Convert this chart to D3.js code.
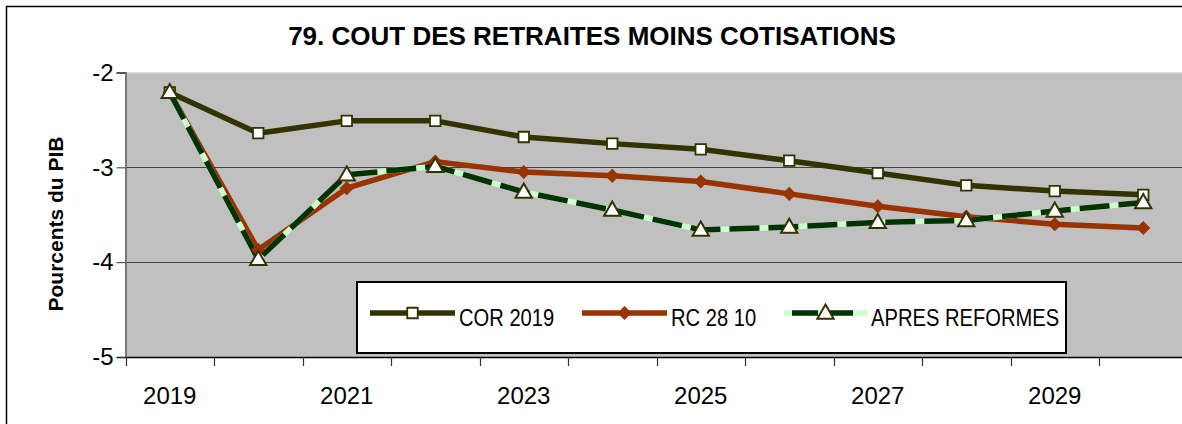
<!DOCTYPE html>
<html>
<head>
<meta charset="utf-8">
<script src="https://cdn.jsdelivr.net/npm/d3@7"></script>
<style>
  body { margin: 0; background: #fff; }
  text { font-family: "Liberation Sans", Arial, sans-serif; }
</style>
</head>
<body>
<script>
var years = ["2019","2020","2021","2022","2023","2024","2025","2026","2027","2028","2029","2030"];
var yearLabels = ["2019","2021","2023","2025","2027","2029"];
var yTicks = [-2, -3, -4, -5];

var cor2019 = [-2.21, -2.64, -2.51, -2.51, -2.68, -2.75, -2.81, -2.93, -3.06, -3.19, -3.25, -3.29];
var rc2810 = [-2.21, -3.87, -3.22, -2.94, -3.05, -3.09, -3.15, -3.28, -3.41, -3.52, -3.60, -3.64];
var apres = [-2.21, -3.97, -3.08, -2.99, -3.26, -3.45, -3.66, -3.63, -3.58, -3.56, -3.46, -3.37];

var seriesNames = ["COR 2019", "RC 28 10", "APRES REFORMES"];

var width = 1182,
    height = 424;

var svg = d3.select("body").append("svg")
    .attr("width", width)
    .attr("height", height);

// outer chart frame (cut off on the right and bottom like the source)
svg.append("rect")
    .attr("x", 6.5).attr("y", 6.5)
    .attr("width", 1400).attr("height", 600)
    .attr("fill", "#fff")
    .attr("stroke", "#000")
    .attr("stroke-width", 1.5);

var x = d3.scaleBand().domain(years).range([125.5, 1187.5]).padding(0);
var y = d3.scaleLinear().domain([-5, -2]).range([357, 72.5]);

function cx(i) { return x(years[i]) + x.bandwidth() / 2; }

// plot area
svg.append("rect")
    .attr("x", x.range()[0]).attr("y", y(-2))
    .attr("width", x.range()[1] - x.range()[0])
    .attr("height", y(-5) - y(-2))
    .attr("fill", "#c0c0c0");

svg.append("line")
    .attr("x1", x.range()[0]).attr("x2", width)
    .attr("y1", y(-2) + 0.5).attr("y2", y(-2) + 0.5)
    .attr("stroke", "#dedede");

// gridlines
svg.append("g")
    .selectAll("line")
    .data([-3, -4])
    .enter().append("line")
    .attr("x1", x.range()[0]).attr("x2", width)
    .attr("y1", function(d) { return Math.round(y(d)) + 0.5; })
    .attr("y2", function(d) { return Math.round(y(d)) + 0.5; })
    .attr("stroke", "#444")
    .attr("stroke-width", 1.2);

// y axis
var yAxis = svg.append("g")
    .attr("transform", "translate(" + x.range()[0] + ",0)")
    .call(d3.axisLeft(y).tickValues(yTicks).tickSize(9).tickPadding(3)
        .tickFormat(function(d) { return String(d); }));
yAxis.select(".domain").attr("stroke", "#777").attr("stroke-width", 2);
yAxis.selectAll(".tick line").attr("stroke", "#333");
yAxis.selectAll("text")
    .attr("font-family", "Liberation Sans, Arial, sans-serif")
    .attr("font-size", 24)
    .attr("fill", "#000");

// x axis
var xAxis = svg.append("g")
    .attr("transform", "translate(0," + y(-5) + ")");
xAxis.append("line")
    .attr("x1", x.range()[0]).attr("x2", width)
    .attr("y1", 0.5).attr("y2", 0.5)
    .attr("stroke", "#000").attr("stroke-width", 1.5);
xAxis.selectAll(".xt")
    .data(years)
    .enter().append("line")
    .attr("class", "xt")
    .attr("x1", function(d) { return Math.round(x(d)) + 0.5; })
    .attr("x2", function(d) { return Math.round(x(d)) + 0.5; })
    .attr("y1", 0).attr("y2", 9)
    .attr("stroke", "#333").attr("stroke-width", 1.2);
xAxis.selectAll(".xl")
    .data(yearLabels)
    .enter().append("text")
    .attr("class", "xl")
    .attr("x", function(d) { return x(d) + x.bandwidth() / 2; })
    .attr("y", 47)
    .attr("text-anchor", "middle")
    .attr("font-size", 24)
    .text(function(d) { return d; });

// title
svg.append("text")
    .attr("x", 592).attr("y", 45)
    .attr("text-anchor", "middle")
    .attr("font-size", 26)
    .attr("font-weight", "bold")
    .text("79. COUT DES RETRAITES MOINS COTISATIONS");

// y label
svg.append("text")
    .attr("transform", "translate(63,224) rotate(-90)")
    .attr("text-anchor", "middle")
    .attr("font-size", 21)
    .attr("font-weight", "bold")
    .text("Pourcents du PIB");

// lines
var line = d3.line()
    .x(function(d, i) { return cx(i); })
    .y(function(d) { return y(d); });

svg.append("path")
    .datum(cor2019)
    .attr("d", line)
    .attr("fill", "none")
    .attr("stroke", "#333300")
    .attr("stroke-width", 5.5)
    .attr("stroke-linejoin", "round");

svg.append("path")
    .datum(rc2810)
    .attr("d", line)
    .attr("fill", "none")
    .attr("stroke", "#993300")
    .attr("stroke-width", 5.5)
    .attr("stroke-linejoin", "round");

svg.append("path")
    .datum(apres)
    .attr("d", line)
    .attr("fill", "none")
    .attr("stroke", "#ccffcc")
    .attr("stroke-width", 5.5);

svg.append("path")
    .datum(apres)
    .attr("d", line)
    .attr("fill", "none")
    .attr("stroke", "#003300")
    .attr("stroke-width", 5.5)
    .attr("stroke-dasharray", "30,9");

// markers
var square = d3.symbol().type(d3.symbolSquare).size(110);
var diamond = d3.symbol().type(d3.symbolSquare).size(80);
var triangle = d3.symbol().type(d3.symbolTriangle).size(115);

function drawSquares(g, data) {
    g.selectAll(null).data(data).enter().append("path")
        .attr("d", square)
        .attr("transform", function(d, i) { return "translate(" + cx(i) + "," + y(d) + ")"; })
        .attr("fill", "#fff")
        .attr("stroke", "#333300")
        .attr("stroke-width", 1.8);
}
function drawDiamonds(g, data) {
    g.selectAll(null).data(data).enter().append("path")
        .attr("d", diamond)
        .attr("transform", function(d, i) { return "translate(" + cx(i) + "," + y(d) + ") rotate(45)"; })
        .attr("fill", "#993300")
        .attr("stroke", "#993300")
        .attr("stroke-width", 1);
}
function drawTriangles(g, data) {
    g.selectAll(null).data(data).enter().append("path")
        .attr("d", triangle)
        .attr("transform", function(d, i) { return "translate(" + cx(i) + "," + (y(d) + 1) + ")"; })
        .attr("fill", "#fff")
        .attr("stroke", "#333300")
        .attr("stroke-width", 2);
}

drawSquares(svg.append("g"), cor2019);
drawDiamonds(svg.append("g"), rc2810);
drawTriangles(svg.append("g"), apres);

// legend
var legend = svg.append("g");
legend.append("rect")
    .attr("x", 357).attr("y", 282)
    .attr("width", 709).attr("height", 71)
    .attr("fill", "#fff")
    .attr("stroke", "#000")
    .attr("stroke-width", 2);

var legendItems = [
    {name: seriesNames[0], x0: 370, x1: 455, tx: 459},
    {name: seriesNames[1], x0: 582, x1: 667, tx: 671},
    {name: seriesNames[2], x0: 784, x1: 867, tx: 871}
];
var ly = 313;

legend.append("line")
    .attr("x1", legendItems[0].x0).attr("x2", legendItems[0].x1)
    .attr("y1", ly).attr("y2", ly)
    .attr("stroke", "#333300").attr("stroke-width", 5.5);
legend.append("path")
    .attr("d", square)
    .attr("transform", "translate(" + (legendItems[0].x0 + legendItems[0].x1) / 2 + "," + ly + ")")
    .attr("fill", "#fff").attr("stroke", "#333300").attr("stroke-width", 1.8);

legend.append("line")
    .attr("x1", legendItems[1].x0).attr("x2", legendItems[1].x1)
    .attr("y1", ly).attr("y2", ly)
    .attr("stroke", "#993300").attr("stroke-width", 5.5);
legend.append("path")
    .attr("d", diamond)
    .attr("transform", "translate(" + (legendItems[1].x0 + legendItems[1].x1) / 2 + "," + ly + ") rotate(45)")
    .attr("fill", "#993300").attr("stroke", "#993300");

legend.append("line")
    .attr("x1", legendItems[2].x0).attr("x2", legendItems[2].x1)
    .attr("y1", ly).attr("y2", ly)
    .attr("stroke", "#ccffcc").attr("stroke-width", 5.5);
legend.append("line")
    .attr("x1", legendItems[2].x0 + 8).attr("x2", legendItems[2].x1 - 8)
    .attr("y1", ly).attr("y2", ly)
    .attr("stroke", "#003300").attr("stroke-width", 5.5)
    .attr("stroke-dasharray", "26,9");
legend.append("path")
    .attr("d", triangle)
    .attr("transform", "translate(" + (legendItems[2].x0 + legendItems[2].x1) / 2 + "," + (ly + 1) + ")")
    .attr("fill", "#fff").attr("stroke", "#333300").attr("stroke-width", 2);

legend.selectAll(".lt")
    .data(legendItems)
    .enter().append("text")
    .attr("class", "lt")
    .attr("transform", function(d) { return "translate(" + d.tx + ",326) scale(0.84,1)"; })
    .attr("font-size", 24)
    .text(function(d) { return d.name; });
</script>
</body>
</html>
